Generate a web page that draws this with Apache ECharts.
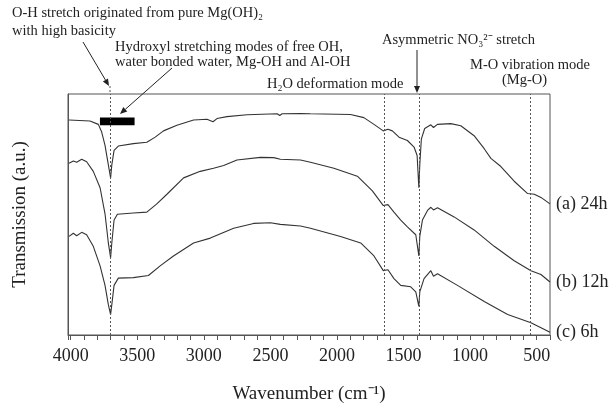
<!DOCTYPE html>
<html>
<head>
    <meta charset="utf-8">
    <title>FTIR</title>
    <script type="text/javascript" src="https://cdn.jsdelivr.net/npm/echarts@6/dist/echarts.min.js"></script>
    <style>
        html, body { margin: 0; padding: 0; background: #fff; }
    </style>
</head>
<body>
<div id="main" style="width: 614px;height:409px;"></div>
<script type="text/javascript">
    // spectra: [wavenumber (cm-1), transmission (a.u.)]
    var spec24h = [
        [4012, 89.2], [3855, 88.8], [3792, 87.4], [3767, 84.2], [3742, 78.7], [3717, 70.6], [3700, 65.2], [3691, 70.6],
        [3674, 76.6], [3642, 78.4], [3529, 79.4], [3428, 80.0], [3365, 82.1], [3303, 84.7], [3202, 87.0], [3077, 89.2],
        [2976, 89.5], [2931, 88.5], [2901, 89.8], [2826, 90.6], [2675, 91.4], [2449, 91.8], [2430, 91.1], [2412, 91.8],
        [2274, 91.9], [2199, 91.8], [1898, 91.5], [1798, 90.2], [1722, 87.4], [1652, 84.7], [1617, 85.4], [1584, 84.7],
        [1534, 82.1], [1471, 80.7], [1421, 78.0], [1398, 74.5], [1385, 61.1], [1378, 70.6], [1366, 81.4], [1341, 85.7],
        [1295, 87.2], [1275, 86.1], [1245, 87.4], [1145, 87.7], [1070, 86.8], [970, 82.7], [894, 77.3], [844, 73.3],
        [769, 69.9], [669, 63.8], [568, 58.7], [518, 58.4], [468, 57.1], [400, 54.4]
    ];
    var spec12h = [
        [4012, 71.3], [3980, 72.2], [3955, 71.7], [3917, 72.9], [3880, 71.9], [3830, 67.9], [3779, 61.1], [3742, 50.3],
        [3717, 38.2], [3700, 32.1], [3691, 38.2], [3674, 47.7], [3649, 50.1], [3529, 50.6], [3428, 51.0], [3353, 54.4],
        [3277, 58.4], [3152, 65.2], [3027, 67.9], [2927, 69.2], [2851, 70.3], [2751, 72.6], [2575, 73.7], [2475, 73.6],
        [2425, 72.9], [2274, 72.6], [2199, 71.7], [2023, 69.2], [1847, 65.9], [1734, 59.8], [1652, 53.7], [1617, 54.1],
        [1572, 51.0], [1521, 47.7], [1471, 44.9], [1408, 41.6], [1385, 32.8], [1378, 40.9], [1358, 47.7], [1320, 51.7],
        [1295, 53.0], [1275, 51.9], [1245, 52.8], [1120, 49.0], [970, 43.6], [819, 36.8], [669, 30.8], [543, 26.7],
        [468, 25.1], [400, 22.0]
    ];
    var spec6h = [
        [4012, 40.9], [3980, 42.2], [3955, 41.2], [3917, 42.6], [3880, 41.6], [3830, 36.8], [3779, 28.7], [3742, 20.6],
        [3717, 12.6], [3700, 8.5], [3691, 12.6], [3674, 20.6], [3642, 23.6], [3529, 23.8], [3416, 24.7], [3328, 28.7],
        [3228, 32.8], [3077, 38.2], [2951, 40.2], [2776, 44.3], [2626, 46.3], [2500, 46.6], [2425, 45.9], [2274, 45.2],
        [2199, 44.3], [1973, 40.9], [1822, 38.2], [1722, 32.8], [1652, 26.7], [1617, 27.1], [1572, 23.4], [1521, 20.6],
        [1446, 20.0], [1408, 17.9], [1385, 11.9], [1378, 17.9], [1346, 23.4], [1295, 26.7], [1275, 24.4], [1245, 25.4],
        [1095, 20.6], [894, 13.9], [718, 8.5], [543, 5.1], [400, 1.1]
    ];
    var seriesNames = ['(a) 24h', '(b) 12h', '(c) 6h'];
    // band positions marked with dotted lines
    var bandLines = [3700, 1643, 1385, 550];
    // black bar (hydroxyl stretching region)
    var hydroxylBand = [3780, 3520];
    var hydroxylBarY = [87.0, 90.3];

    var font = '"Liberation Serif", "Times New Roman", serif';
    var ink = '#222';

    var myChart = echarts.init(document.getElementById('main'));

    function arrow(x1, y1, x2, y2) {
        var ang = Math.atan2(y2 - y1, x2 - x1);
        var len = 7, w = 3;
        var bx = x2 - len * Math.cos(ang), by = y2 - len * Math.sin(ang);
        var px = -Math.sin(ang) * w, py = Math.cos(ang) * w;
        return [
            {type: 'line', shape: {x1: x1, y1: y1, x2: bx, y2: by}, style: {stroke: ink, lineWidth: 1}},
            {type: 'polygon', shape: {points: [[x2, y2], [bx + px, by + py], [bx - px, by - py]]}, style: {fill: ink}}
        ];
    }

    function note(text, x, y) {
        return {
            type: 'text', left: x, top: y,
            style: {text: text, font: '14.5px ' + font, fill: ink}
        };
    }

    var graphics = [
        note('O-H stretch originated from pure Mg(OH)\u2082', 12, 6),
        note('with high basicity', 12, 24),
        note('Hydroxyl stretching modes of free OH,', 115, 40),
        note('water bonded water, Mg-OH and Al-OH', 115, 55),
        note('H\u2082O deformation mode', 267, 77),
        note('Asymmetric NO\u2083\u00b2\u207b stretch', 382, 33),
        note('M-O vibration mode', 470, 58),
        note('(Mg-O)', 502, 73),
        {type: 'line', shape: {x1: 110, y1: 86, x2: 110, y2: 94}, style: {stroke: '#555', lineDash: [2, 2], lineWidth: 1}}
    ].concat(arrow(83, 42, 109, 86), arrow(172, 68, 120, 114), arrow(417, 50, 417, 93));

    var lineStyle = {color: '#333', width: 1.1};

    var option = {
        animation: false,
        grid: {
            left: 68, right: 64, top: 94, bottom: 68,
            show: true, borderColor: '#555', borderWidth: 1
        },
        xAxis: {
            type: 'value',
            inverse: true,
            min: 400,
            max: 4020,
            interval: 100,
            name: 'Wavenumber (cm\u207b\u00b9)',
            nameLocation: 'middle',
            nameGap: 50,
            nameTextStyle: {fontFamily: font, fontSize: 19, color: ink},
            axisLine: {show: true, onZero: false, lineStyle: {color: '#555'}},
            axisTick: {show: true, inside: false, length: 5, lineStyle: {color: '#555'}},
            axisLabel: {
                fontFamily: font, fontSize: 18, color: ink, margin: 12,
                formatter: function (v) { return v % 500 === 0 ? String(v) : ''; }
            },
            splitLine: {show: false}
        },
        yAxis: {
            type: 'value',
            min: 0,
            max: 100,
            name: 'Transmission (a.u.)',
            nameLocation: 'middle',
            nameRotate: 90,
            nameGap: 38,
            nameTextStyle: {fontFamily: font, fontSize: 19, color: ink},
            axisLine: {show: true, lineStyle: {color: '#555'}},
            axisTick: {show: false},
            axisLabel: {show: false},
            splitLine: {show: false}
        },
        graphic: graphics,
        series: [spec24h, spec12h, spec6h].map(function (d, i) {
            var s = {
                type: 'line',
                name: seriesNames[i],
                data: d,
                showSymbol: false,
                lineStyle: lineStyle,
                endLabel: {
                    show: true,
                    formatter: '{a}',
                    align: 'left',
                    distance: 0,
                    offset: [6, 0],
                    fontFamily: font, fontSize: 18, color: ink
                }
            };
            if (i === 0) {
                s.markLine = {
                    silent: true,
                    symbol: 'none',
                    label: {show: false},
                    lineStyle: {color: '#555', type: [2, 2], width: 1},
                    data: bandLines.map(function (w) { return {xAxis: w}; })
                };
                s.markArea = {
                    silent: true,
                    itemStyle: {color: '#000'},
                    data: [[{xAxis: hydroxylBand[0], yAxis: hydroxylBarY[0]}, {xAxis: hydroxylBand[1], yAxis: hydroxylBarY[1]}]]
                };
            }
            return s;
        })
    };
    myChart.setOption(option);
</script>
</body>
</html>
